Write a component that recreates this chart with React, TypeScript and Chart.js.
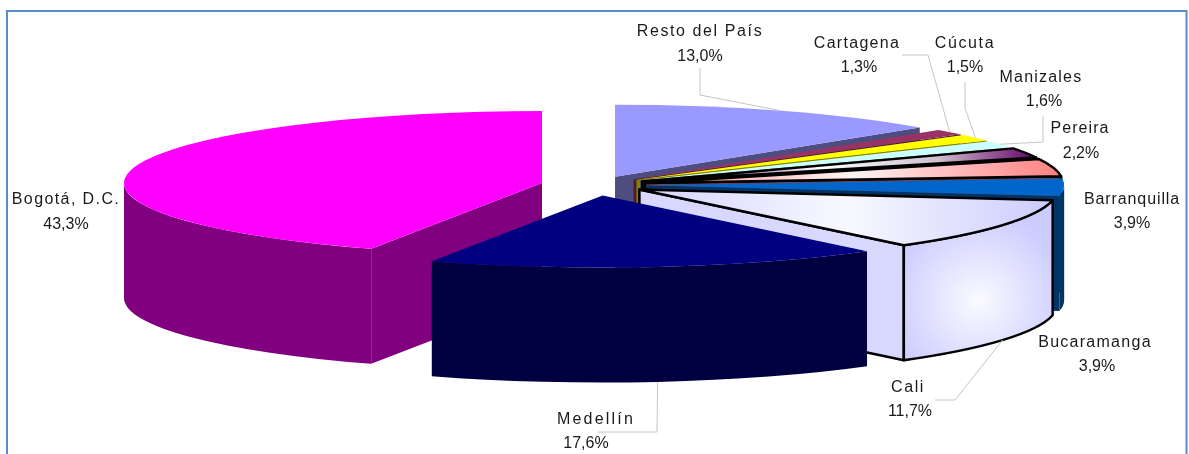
import React, { useEffect, useRef } from "react";
import { Chart, registerables } from "chart.js";

Chart.register(...registerables);

// Slices run clockwise from twelve o'clock.
const regions = ["Resto del País", "Cartagena", "Cúcuta", "Manizales", "Pereira", "Barranquilla", "Bucaramanga", "Cali", "Medellín", "Bogotá, D.C."];
const shares = [13.0, 1.3, 1.5, 1.6, 2.2, 3.9, 3.9, 11.7, 17.6, 43.3];

const topColors = ["#9999FF", "#993366", "#FFFF00", "#CCFFFF", "#660066", "#FF8080", "#0066CC", "#CCCCFF", "#000080", "#FF00FF"];
const sideColors = ["#4D4D80", "#4D1933", "#808000", "#668080", "#330033", "#804040", "#003366", "#D8D8FF", "#000040", "#800080"];
const outlineWidths = [0, 0, 0, 0, 2.5, 2.5, 0, 2.5, 0, 0];
const explode = [26, 26, 26, 26, 26, 26, 26, 26, 31, 27];

// Horizontal sheen across the top face of the shaded slices, as [stop, colour] pairs.
const topSheens: Record<number, [number, string][]> = {
  4: [[0, "#660066"], [0.45, "#FFFFFF"], [0.75, "#CFC0CF"], [1, "#660066"]],
  5: [[0, "#FF9090"], [0.5, "#FFF4F4"], [1, "#FF8080"]],
  7: [[0, "#D4D4FF"], [0.5, "#F8F8FF"], [1, "#CCCCFF"]],
};

// Flattened-cylinder view of the pie.
const view = { rimX: 418, rimY: 72, lift: 42, depth: 115 };

// Caption placement: centre x, name baseline y, share centre x, share baseline y, name tracking.
const captions: [number, number, number, number, number][] = [
  [700, 36, 700, 61, 1.6],
  [857, 48, 859, 72, 1.3],
  [965, 48, 965, 72, 1.6],
  [1041, 82, 1044, 106, 1.2],
  [1080, 133, 1081, 158, 1.05],
  [1132, 204, 1132, 228, 0.9],
  [1095, 347, 1097, 371, 1.27],
  [908, 392, 910, 416, 1.6],
  [596, 424, 586, 448, 2.2],
  [66, 204, 66, 229, 1.4],
];

// Elbows of the leader lines, each ending on the rim of its slice.
const leaders: [number, [number, number][]][] = [
  [0, [[700, 68], [700, 95]]],
  [1, [[902, 55], [928, 55]]],
  [2, [[965, 82], [965, 108]]],
  [3, [[1043, 116], [1043, 142]]],
  [7, [[935, 400], [955, 400]]],
  [8, [[598, 432], [657, 432]]],
];

const shareText = (v: number) => v.toFixed(1).replace(".", ",") + "%";

function geometry(arc: any) {
  const sx = view.rimX / arc.outerRadius;
  const sy = view.rimY / arc.outerRadius;
  const mid = (arc.startAngle + arc.endAngle) / 2;
  const off = arc.options.offset || 0;
  return {
    ax: arc.x + Math.cos(mid) * off * sx,
    ay: arc.y - view.lift + Math.sin(mid) * off * sy,
    mid,
  };
}

const pie3d = {
  id: "pie3d",
  beforeDatasetDraw(chart: any, args: any) {
    const { ctx } = chart;
    const { rimX: rx, rimY: ry, depth } = view;
    const order = args.meta.data
      .map((arc: any, i: number) => ({ arc, i, g: geometry(arc) }))
      .sort((a: any, b: any) => a.g.ay - b.g.ay);

    ctx.save();
    ctx.lineJoin = "round";
    for (const { arc, i, g } of order) {
      const { ax, ay } = g;
      const a0 = arc.startAngle;
      const a1 = arc.endAngle;
      const lw = arc.options.borderWidth;
      const finish = () => {
        if (lw > 0) {
          ctx.lineWidth = lw;
          ctx.strokeStyle = arc.options.borderColor;
          ctx.stroke();
        }
      };
      const cutFace = (a: number) => {
        const px = ax + rx * Math.cos(a);
        const py = ay + ry * Math.sin(a);
        ctx.beginPath();
        ctx.moveTo(ax, ay);
        ctx.lineTo(px, py);
        ctx.lineTo(px, py + depth);
        ctx.lineTo(ax, ay + depth);
        ctx.closePath();
        ctx.fillStyle = sideColors[i];
        ctx.fill();
        finish();
      };
      // Only the walls that face the viewer are painted.
      if (Math.cos(a0) < -1e-6) cutFace(a0);
      if (Math.cos(a1) > 1e-6) cutFace(a1);

      const r0 = Math.max(a0, 0);
      const r1 = Math.min(a1, Math.PI);
      if (r0 < r1) {
        const xa = ax + rx * Math.cos(r0);
        const xb = ax + rx * Math.cos(r1);
        ctx.beginPath();
        ctx.ellipse(ax, ay, rx, ry, 0, r0, r1);
        ctx.ellipse(ax, ay + depth, rx, ry, 0, r1, r0, true);
        ctx.closePath();
        if (topSheens[i] && i === 7) {
          const cx = (xa + xb) / 2;
          const cy = ay + ry * 0.75 + depth / 2;
          const glow = ctx.createRadialGradient(cx, cy, 0, cx, cy, 90);
          glow.addColorStop(0, "#FAFAFF");
          glow.addColorStop(1, "#CCCCFF");
          ctx.fillStyle = glow;
        } else {
          ctx.fillStyle = sideColors[i];
        }
        ctx.fill();
        finish();
      }

      ctx.beginPath();
      ctx.moveTo(ax, ay);
      ctx.ellipse(ax, ay, rx, ry, 0, a0, a1);
      ctx.closePath();
      const stops = topSheens[i];
      if (stops) {
        const grad = ctx.createLinearGradient(ax, 0, ax + rx * Math.max(Math.cos(a0), Math.cos(a1)), 0);
        stops.forEach(([s, c]) => grad.addColorStop(s, c));
        ctx.fillStyle = grad;
      } else {
        ctx.fillStyle = arc.options.backgroundColor;
      }
      ctx.fill();
      finish();
    }
    ctx.restore();
    return false;
  },
  afterDraw(chart: any) {
    const { ctx, width } = chart;
    const arcs = chart.getDatasetMeta(0).data;
    ctx.save();

    // Frame around the chart.
    ctx.strokeStyle = "#5B8BC8";
    ctx.lineWidth = 2;
    ctx.beginPath();
    ctx.moveTo(7, 460);
    ctx.lineTo(7, 11);
    ctx.lineTo(width - 2.5, 11);
    ctx.lineTo(width - 2.5, 460);
    ctx.stroke();

    ctx.strokeStyle = "#C4C4C4";
    ctx.lineWidth = 1;
    for (const [i, elbows] of leaders) {
      const g = geometry(arcs[i]);
      const ex = g.ax + view.rimX * Math.cos(g.mid);
      const ey = g.ay + view.rimY * Math.sin(g.mid) + (Math.sin(g.mid) > 0 ? view.depth : 0);
      ctx.beginPath();
      elbows.forEach(([x, y], k) => (k ? ctx.lineTo(x, y) : ctx.moveTo(x, y)));
      ctx.lineTo(ex, ey);
      ctx.stroke();
    }

    ctx.fillStyle = "#1A1A1A";
    ctx.font = '16px "Liberation Sans"';
    ctx.textAlign = "center";
    ctx.textBaseline = "alphabetic";
    regions.forEach((name, i) => {
      const [nx, ny, sx, sy, track] = captions[i];
      ctx.letterSpacing = track + "px";
      ctx.fillText(name, nx, ny);
      ctx.letterSpacing = "0px";
      ctx.fillText(shareText(shares[i]), sx, sy);
    });
    ctx.restore();
  },
};

export default function App() {
  const ref = useRef<HTMLCanvasElement>(null);
  useEffect(() => {
    const chart = new Chart(ref.current!, {
      type: "pie",
      data: {
        labels: regions,
        datasets: [
          {
            data: shares,
            backgroundColor: topColors,
            borderColor: "#000000",
            borderWidth: outlineWidths,
            offset: explode,
          },
        ],
      },
      options: {
        responsive: false,
        animation: false,
        events: [],
        layout: { padding: 0 },
        plugins: { legend: { display: false }, tooltip: { enabled: false } },
      },
      plugins: [pie3d],
    } as any);
    return () => chart.destroy();
  }, []);
  return (
    <div style={{ position: "absolute", left: 0, top: 0, width: 1189, height: 454, overflow: "hidden", background: "#FFFFFF" }}>
      <canvas ref={ref} width={1189} height={454} style={{ display: "block" }} />
    </div>
  );
}
